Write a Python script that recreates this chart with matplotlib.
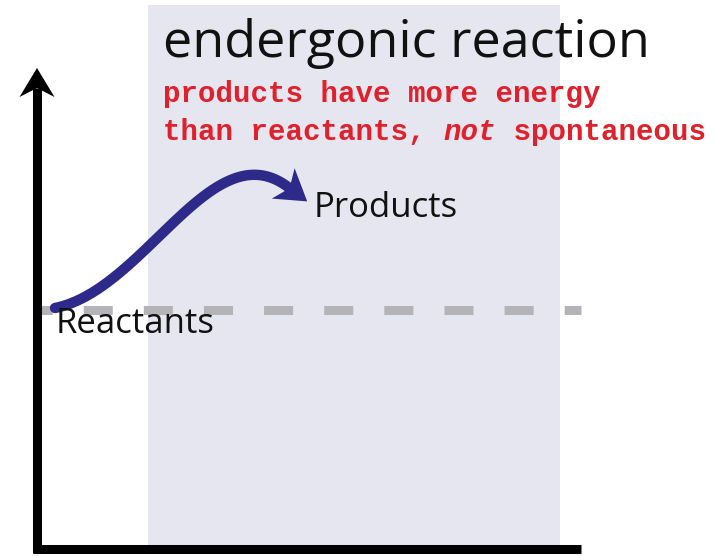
import matplotlib
matplotlib.use("Agg")
import numpy as np
import matplotlib.pyplot as plt
from matplotlib.patches import Rectangle, Polygon

# diagram values (pixel space of the original figure)
title = "endergonic reaction"
note_line1 = ["products have more energy"]
note_line2 = ["than reactants, ", "not", " spontaneous"]
note_styles = ["normal", "italic", "normal"]
level_names = ["Reactants", "Products"]
reactant_level = 310
shade_x = [148, 560]
shade_y = [5, 545]
axis_origin = [37, 549]
axis_ends = [581, 68]
dash_start = 33
curve_x = [55, 145, 212, 288]
curve_y = [308, 290, 130, 187]

W, H = 718, 556
fig = plt.figure(figsize=(W / 100, H / 100), dpi=100)
ax = fig.add_axes([0, 0, 1, 1])
ax.set_xlim(0, W)
ax.set_ylim(H, 0)
ax.axis("off")


def arrow_head(tip, direction, length, half_w, notch):
    d = np.asarray(direction, float)
    d /= np.hypot(*d)
    n = np.array([-d[1], d[0]])
    tip = np.asarray(tip, float)
    back = tip - d * length
    return [tip, back + n * half_w, tip - d * (length - notch), back - n * half_w]


ax.add_patch(Rectangle((shade_x[0], shade_y[0]), shade_x[1] - shade_x[0],
                       shade_y[1] - shade_y[0], facecolor="#e6e6f0",
                       edgecolor="none", zorder=0))

# dashed reactant level
ax.plot([dash_start, axis_ends[0]], [reactant_level, reactant_level],
        color="#b4b4b8", lw=6.5, linestyle=(1.1, (3.22, 3.44)),
        dash_capstyle="butt", zorder=1)

# axes
ax.plot([axis_origin[0] - 4, axis_ends[0]], [axis_origin[1], axis_origin[1]],
        color="black", lw=6.5, solid_capstyle="butt", zorder=3)
ax.plot([axis_origin[0], axis_origin[0]], [axis_origin[1] + 4, axis_ends[1] + 20],
        color="black", lw=6.5, solid_capstyle="butt", zorder=3)
ax.add_patch(Polygon(arrow_head((axis_origin[0], axis_ends[1]), (0, -1), 29, 17.5, 9),
                     closed=True, facecolor="black", edgecolor="none", zorder=3))

# reaction arrow (cubic bezier)
t = np.linspace(0, 1, 200)[:, None]
P = np.column_stack([curve_x, curve_y]).astype(float)
B = ((1 - t) ** 3) * P[0] + 3 * t * (1 - t) ** 2 * P[1] + 3 * t ** 2 * (1 - t) * P[2] + t ** 3 * P[3]
ax.plot(B[:, 0], B[:, 1], color="#2e2a8a", lw=7.5, solid_capstyle="round", zorder=4)
end_dir = P[3] - P[2]
end_dir = end_dir / np.hypot(*end_dir)
tip = P[3] + end_dir * 24
ax.add_patch(Polygon(arrow_head(tip, end_dir, 30, 19, 8), closed=True,
                     facecolor="#2e2a8a", edgecolor="none", zorder=4))

ax.text(163, 57, title, fontsize=37.5, family="Open Sans", color="#111111",
        va="baseline", ha="left")

mono_size = 21
char_px = 0.6 * mono_size * 100 / 72
ax.text(163, 102, note_line1[0], fontsize=mono_size, family="Liberation Mono",
        weight="bold", color="#e0202b", va="baseline", ha="left")
pos = 0
for part, st in zip(note_line2, note_styles):
    ax.text(163 + pos * char_px, 140, part, fontsize=mono_size,
            family="Liberation Mono", weight="bold", style=st,
            color="#e0202b", va="baseline", ha="left")
    pos += len(part)

ax.text(314, 217, level_names[1], fontsize=25, family="Open Sans",
        color="#111111", va="baseline", ha="left", zorder=5)
ax.text(56, 333, level_names[0], fontsize=25, family="Open Sans",
        color="#111111", va="baseline", ha="left", zorder=5)

fig.savefig("out.png", dpi=100)
